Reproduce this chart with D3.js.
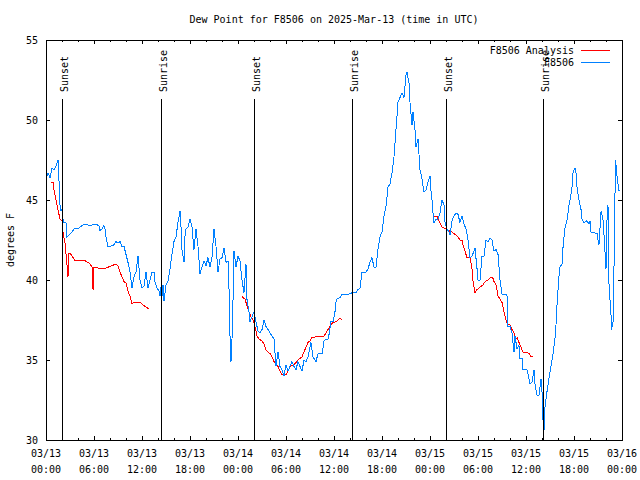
<!DOCTYPE html>
<html><head><meta charset="utf-8">
<script src="https://cdn.jsdelivr.net/npm/d3@7"></script>
<style>
body{margin:0;background:#fff}
text{font-family:"DejaVu Sans Mono",monospace;font-size:10px;fill:#000}
</style>
</head><body>
<svg id="c" width="640" height="480"></svg>
<script>
// ---- data (hours since 2025-03-13 00:00 UTC, degrees F) ----
const obsHours = [0.12,0.25,0.5,0.75,1.0,1.25,1.5,1.62,1.75,1.88,2.0,2.12,2.25,2.5,2.62,2.88,3.25,3.5,4.0,4.25,4.5,4.88,5.5,6.12,6.62,6.75,7.0,7.25,7.38,7.5,7.75,8.0,8.5,8.75,9.0,9.25,9.5,9.75,10.0,10.25,10.5,10.75,11.0,11.25,11.5,11.62,11.75,12.0,12.25,12.5,12.75,13.0,13.25,13.5,13.62,13.88,14.12,14.25,14.38,14.5,14.62,14.75,15.0,15.25,15.5,15.75,16.0,16.25,16.5,16.75,16.88,17.0,17.25,17.38,17.5,17.75,18.0,18.25,18.5,18.75,19.0,19.25,19.5,19.75,20.0,20.25,20.5,20.75,21.0,21.25,21.5,21.75,22.0,22.25,22.5,22.75,22.88,23.0,23.12,23.25,23.38,23.5,23.75,24.0,24.25,24.5,24.75,25.0,25.12,25.38,25.5,25.75,26.0,26.25,26.5,26.75,27.0,27.25,27.5,27.75,28.0,28.25,28.5,28.75,29.0,29.25,29.5,29.75,30.0,30.25,30.5,30.75,31.0,31.25,31.5,31.75,32.0,32.25,32.5,32.75,33.0,33.12,33.38,33.75,34.0,34.5,34.62,34.75,35.0,35.25,35.38,35.62,35.88,36.12,36.25,36.38,36.75,37.0,37.75,38.25,38.75,39.0,39.25,39.5,40.0,40.25,40.5,40.75,41.0,41.25,41.5,41.75,42.0,42.25,42.5,42.75,43.0,43.25,43.5,43.75,44.0,44.25,44.5,44.75,45.0,45.12,45.38,45.5,45.75,45.88,46.12,46.25,46.5,46.75,47.0,47.25,47.5,47.75,48.0,48.12,48.25,48.38,48.5,48.75,49.0,49.25,49.5,49.75,49.88,50.12,50.38,50.5,50.75,51.0,51.25,51.5,51.75,52.0,52.25,52.5,52.75,53.0,53.25,53.5,53.62,53.88,54.0,54.25,54.5,54.75,55.0,55.25,55.5,55.75,56.0,56.25,56.5,56.75,57.0,57.62,57.75,58.0,58.25,58.5,58.62,58.88,59.12,59.25,59.5,59.62,60.12,60.38,60.5,60.75,61.0,61.12,61.38,61.62,61.88,62.0,62.12,62.25,62.38,62.62,62.88,63.12,63.38,63.62,63.75,63.88,64.12,64.25,64.5,64.62,64.75,64.88,65.12,65.38,65.5,65.75,65.88,66.12,66.25,66.38,66.62,66.88,67.0,67.25,67.62,67.88,68.0,68.12,68.88,69.0,69.12,69.38,69.62,69.75,69.88,70.0,70.12,70.25,70.38,70.62,70.69,70.88,70.94,71.0,71.12,71.19,71.25,71.38,71.5,71.62,71.75];
const obsValues = [46.5,46.7,46.4,47.0,46.9,47.1,47.5,46.3,44.7,44.3,44.4,43.8,43.6,43.6,42.7,42.8,43.0,43.2,43.2,43.3,43.4,43.5,43.4,43.5,43.4,43.1,43.2,43.4,43.2,42.7,42.1,42.1,42.2,42.4,42.3,42.4,42.1,42.1,41.6,41.1,40.5,39.5,40.2,40.5,41.5,40.8,40.0,39.5,39.6,40.5,39.5,40.0,40.5,40.5,39.9,39.5,39.3,39.0,39.6,39.0,39.7,38.7,39.7,39.9,40.7,41.6,42.4,42.7,43.6,44.3,43.3,41.9,41.1,42.8,43.2,43.3,43.8,43.3,41.9,43.2,42.1,40.4,40.8,41.2,40.9,41.4,40.8,41.4,43.2,42.1,40.5,41.3,41.4,42.0,41.1,41.2,39.4,36.5,34.9,36.3,38.8,41.8,40.8,41.5,41.2,40.0,39.2,41.0,38.8,38.0,37.4,37.7,38.0,37.4,36.8,36.7,36.9,37.5,37.1,36.9,36.7,36.5,36.3,34.6,35.5,34.6,34.4,34.0,34.7,34.3,34.6,34.9,34.6,34.4,34.9,34.6,34.3,35.0,34.9,35.2,35.8,36.1,35.2,34.9,35.4,35.4,35.7,36.2,36.3,36.3,36.6,37.4,37.4,38.0,38.6,38.8,38.9,39.1,39.1,39.2,39.2,39.4,39.5,40.5,40.5,40.7,41.1,41.4,40.8,40.8,41.9,42.7,43.0,44.0,44.6,45.8,46.0,46.7,47.7,49.4,51.1,51.4,51.7,51.4,52.8,53.0,52.3,51.1,49.7,50.5,49.4,48.3,48.8,46.9,46.3,45.5,45.6,46.1,46.5,45.6,45.0,44.2,43.6,43.8,43.8,44.2,45.0,44.7,43.6,43.2,43.0,42.8,43.7,44.0,44.2,44.1,43.6,44.0,43.5,43.2,42.5,41.4,41.5,41.8,42.0,40.7,40.0,40.0,41.5,41.5,42.5,42.4,42.6,42.5,41.8,41.9,41.6,40.0,39.1,39.1,37.1,37.1,36.7,35.5,36.5,35.7,35.9,35.1,35.1,34.4,34.4,33.8,33.5,33.6,34.4,33.5,32.8,32.8,33.8,33.0,31.3,30.6,32.1,33.0,33.9,34.6,35.4,36.3,37.2,38.5,40.2,40.8,41.0,42.0,42.7,43.3,43.7,44.7,45.0,45.8,46.7,47.0,46.7,45.8,45.0,44.4,43.8,43.6,43.7,43.5,43.7,43.0,42.9,42.5,42.2,44.3,43.8,42.8,41.7,40.7,43.7,44.7,39.6,37.9,36.9,37.4,38.3,40.8,45.2,47.5,47.2,46.5,46.0,45.6,45.6];

// analysis: three runs, separated by null
const anaHours = [0.62,0.88,1.0,1.25,1.5,1.75,2.0,2.12,2.38,2.62,2.75,2.88,3.12,3.38,3.62,4.88,5.25,5.5,5.75,5.88,6.0,6.25,6.75,7.25,7.75,8.25,8.75,9.0,9.25,9.5,9.75,10.0,10.25,10.5,10.75,11.0,11.75,12.0,12.25,12.5,12.88,
  18.0,
  24.5,24.62,24.88,25.12,25.38,25.62,25.88,26.12,26.38,26.62,27.0,27.25,27.5,27.75,28.0,28.25,28.5,28.75,29.0,29.25,29.5,29.75,30.0,30.25,30.5,31.0,31.5,32.0,32.25,32.5,32.75,33.0,33.25,34.25,34.75,35.0,35.25,35.5,35.75,36.25,36.5,36.75,37.0,
  42.0,
  48.5,48.88,49.12,49.5,50.0,50.25,50.75,51.0,51.25,51.5,51.75,52.0,52.12,52.38,52.62,53.0,53.25,53.38,53.62,53.88,54.12,54.38,54.62,54.88,55.25,55.62,55.88,56.0,56.25,56.5,56.75,57.0,57.25,57.5,57.75,58.0,58.25,58.5,58.75,58.88,59.12,59.38,59.62,59.88,60.12,60.38,60.62,60.88];
const anaValues = [46.1,46.1,45.6,45.0,44.4,43.8,43.7,43.0,42.3,41.0,40.2,41.7,41.6,41.4,41.2,41.2,41.1,41.0,40.8,39.4,40.8,40.8,40.7,40.7,40.8,40.9,41.0,40.9,40.5,40.2,39.9,39.8,39.3,39.0,38.5,38.6,38.6,38.5,38.4,38.3,38.2,
  null,
  39.0,38.9,38.8,38.4,38.0,37.7,37.5,37.1,36.5,36.3,36.2,36.0,35.6,35.5,35.4,35.2,34.9,34.7,34.6,34.3,34.1,34.0,34.1,34.3,34.6,34.7,35.0,35.2,35.5,35.8,36.1,36.2,36.4,36.5,36.5,36.7,36.9,37.1,37.3,37.4,37.5,37.6,37.5,
  null,
  44.0,44.0,43.7,43.3,43.2,43.1,43.0,42.9,42.8,42.7,42.5,42.5,42.2,41.8,41.4,41.4,40.7,39.9,39.2,39.4,39.5,39.6,39.7,39.9,40.0,40.2,40.1,39.9,39.7,39.0,38.8,38.6,38.0,37.5,37.2,37.2,36.9,36.7,36.3,36.4,36.1,35.8,35.5,35.5,35.5,35.4,35.2,35.2];

const sunLabels = ["Sunset","Sunrise","Sunset","Sunrise","Sunset","Sunrise"];
const sunHours = [2.04,14.33,26.04,38.29,50.0,62.17];
const yTicks = [30,35,40,45,50,55];
const seriesNames = ["F8506 Analysis","F8506"];
const seriesColors = ["#ff0000","#0080ff"];
const titleText = "Dew Point for F8506 on 2025-Mar-13 (time in UTC)";
const yLabel = "degrees F";

// ---- drawing ----
const svg = d3.select("#c");
const L = 46, R = 622, T = 40, B = 440;
const t0 = Date.UTC(2025, 2, 13);
const toDate = h => new Date(t0 + h * 3600e3);
const x = d3.scaleUtc().domain([toDate(0), toDate(72)]).range([L, R]);
const y = d3.scaleLinear().domain([30, 55]).range([B, T]);

svg.append("rect").attr("width", 640).attr("height", 480).attr("fill", "#fff");

const majorT = d3.utcHour.every(6).range(toDate(0), toDate(72.01));
const minorT = d3.utcHour.every(2).range(toDate(0), toDate(72.01)).filter(d => d.getUTCHours() % 6 !== 0);

function styleAxis(g) {
  g.select(".domain").remove();
  g.selectAll("line").attr("stroke", "#000").attr("shape-rendering", "crispEdges");
}
svg.append("g").attr("transform", `translate(0,${B})`)
  .call(d3.axisBottom(x).tickValues(minorT).tickSize(-2).tickFormat("")).call(styleAxis);
svg.append("g").attr("transform", `translate(0,${B})`)
  .call(d3.axisBottom(x).tickValues(majorT).tickSize(-4).tickFormat("")).call(styleAxis);
svg.append("g").attr("transform", `translate(0,${T})`)
  .call(d3.axisTop(x).tickValues(minorT).tickSize(-2).tickFormat("")).call(styleAxis);
svg.append("g").attr("transform", `translate(0,${T})`)
  .call(d3.axisTop(x).tickValues(majorT).tickSize(-4).tickFormat("")).call(styleAxis);

const yl = svg.append("g").attr("transform", `translate(${L},0)`)
  .call(d3.axisLeft(y).tickValues(yTicks).tickSize(-4).tickPadding(8).tickFormat(d3.format("d"))).call(styleAxis);
yl.selectAll("text").attr("fill", "#000").style("font-family", '"DejaVu Sans Mono",monospace').style("font-size", "10px");
svg.append("g").attr("transform", `translate(${R},0)`)
  .call(d3.axisRight(y).tickValues(yTicks).tickSize(-4).tickFormat("")).call(styleAxis);

// x tick labels (two lines)
const fmtD = d3.utcFormat("%m/%d"), fmtT = d3.utcFormat("%H:%M");
const xl = svg.append("g").selectAll("text").data(majorT).join("text")
  .attr("text-anchor", "middle").attr("x", d => x(d));
xl.append("tspan").attr("x", d => x(d)).attr("y", 457).text(fmtD);
xl.append("tspan").attr("x", d => x(d)).attr("y", 473).text(fmtT);

// series
const lineGen = d3.line()
  .defined(d => d.v !== null)
  .x(d => x(toDate(d.h))).y(d => y(d.v));
const ana = anaHours.map((h, i) => ({h, v: anaValues[i]}));
const obs = obsHours.map((h, i) => ({h, v: obsValues[i]}));
svg.append("path").datum(ana).attr("d", lineGen).attr("fill", "none")
  .attr("stroke", seriesColors[0]).attr("stroke-width", 1).attr("shape-rendering", "crispEdges");
svg.append("path").datum(obs).attr("d", lineGen).attr("fill", "none")
  .attr("stroke", seriesColors[1]).attr("stroke-width", 1).attr("shape-rendering", "crispEdges");

// sunrise/sunset markers
const sg = svg.append("g");
sunHours.forEach((h, i) => {
  const px = Math.round(x(toDate(h))) + 0.5;
  sg.append("line").attr("x1", px).attr("x2", px).attr("y1", 99).attr("y2", B)
    .attr("stroke", "#000").attr("shape-rendering", "crispEdges");
  sg.append("text").attr("transform", `translate(${px + 5},92) rotate(-90)`)
    .attr("text-anchor", "start").text(sunLabels[i]);
});

// frame
svg.append("rect").attr("x", L + 0.5).attr("y", T + 0.5).attr("width", R - L).attr("height", B - T)
  .attr("fill", "none").attr("stroke", "#000").attr("shape-rendering", "crispEdges");

// legend
const legY = [50, 62];
seriesNames.forEach((n, i) => {
  svg.append("text").attr("x", 574).attr("y", legY[i] + 3.8).attr("text-anchor", "end").text(n);
  svg.append("line").attr("x1", 581).attr("x2", 610).attr("y1", legY[i] + 0.5).attr("y2", legY[i] + 0.5)
    .attr("stroke", seriesColors[i]).attr("shape-rendering", "crispEdges");
});

// title and axis label
svg.append("text").attr("x", (L + R) / 2).attr("y", 23).attr("text-anchor", "middle").text(titleText);
svg.append("text").attr("transform", "translate(14,240) rotate(-90)").attr("text-anchor", "middle").text(yLabel);
</script>
</body></html>
